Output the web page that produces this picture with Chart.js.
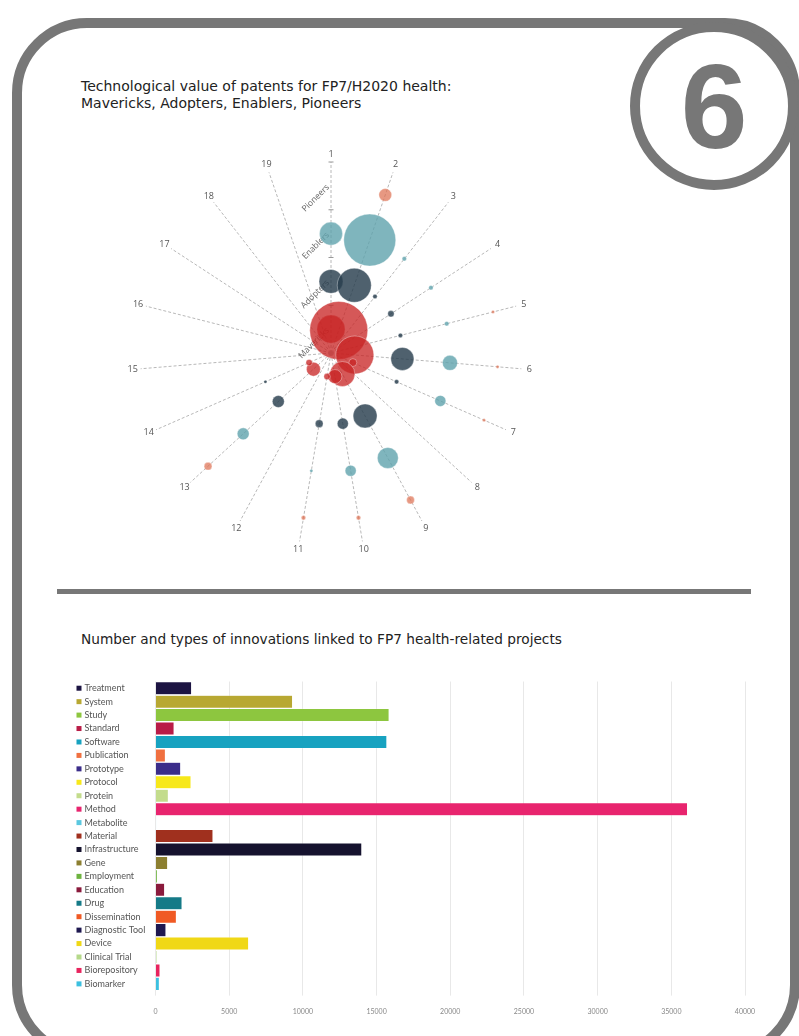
<!DOCTYPE html>
<html>
<head>
<meta charset="utf-8">
<script src="https://cdn.jsdelivr.net/npm/chart.js@4.4.1/dist/chart.umd.min.js"></script>
<style>
  body { margin: 0; width: 799px; height: 1036px; overflow: hidden; background: #fff; position: relative; }
  #frame { position: absolute; left: 12px; top: 18px; width: 768px; height: 1022px; border: 10px solid #777; border-radius: 75px; }
  #badge { position: absolute; left: 630px; top: 22px; width: 148px; height: 148px; border: 10px solid #777; border-radius: 50%; background: #fff;
           display: flex; align-items: center; justify-content: center; font: bold 120px "Liberation Sans", Arial, sans-serif; color: #777; line-height: 1; }
  #sep { position: absolute; left: 57px; top: 589px; width: 694px; height: 5px; background: #777; }
  .title { position: absolute; left: 81px; font: 14px "DejaVu Sans", sans-serif; color: #222; line-height: 17px; }
  canvas { position: absolute; }
</style>
</head>
<body>
<div id="frame"></div>
<div id="badge">6</div>
<div class="title" style="top:78px">Technological value of patents for FP7/H2020 health:<br>Mavericks, Adopters, Enablers, Pioneers</div>
<div id="sep"></div>
<div class="title" style="top:631px;font-size:13.7px">Number and types of innovations linked to FP7 health-related projects</div>
<canvas id="radial" width="422" height="422" style="left:120px;top:142px"></canvas>
<canvas id="bars" width="799" height="376" style="left:0;top:660px"></canvas>
<script>
// --- radial bubble chart: one value per spoke (1..19) for each group
const spokes = ["1", "2", "3", "4", "5", "6", "7", "8", "9", "10", "11", "12", "13", "14", "15", "16", "17", "18", "19"];
const groups = ["Mavericks", "Adopters", "Enablers", "Pioneers"];
const mavericks = [77, 328, 0, 0, 0, 141, 6, 0, 61, 19, 4, 0, 19, 4, 0, 0, 0, 0, 0];
const adopters = [56, 113, 2, 4, 2, 52, 2, 0, 56, 12, 6, 0, 14, 1, 0, 0, 0, 0, 0];
const enablers = [52, 264, 2, 2, 2, 22, 12, 0, 43, 12, 1, 0, 14, 0, 0, 0, 0, 0, 0];
const pioneers = [0, 16, 0, 0, 1, 1, 1, 0, 6, 2, 2, 0, 6, 0, 0, 0, 0, 0, 0];
const groupColors = ["rgba(200,35,35,0.76)", "rgba(40,62,78,0.82)", "rgba(95,163,173,0.8)", "rgba(222,112,82,0.72)"];

// --- bar chart
const categories = ["Treatment", "System", "Study", "Standard", "Software", "Publication", "Prototype", "Protocol", "Protein",
  "Method", "Metabolite", "Material", "Infrastructure", "Gene", "Employment", "Education", "Drug", "Dissemination",
  "Diagnostic Tool", "Device", "Clinical Trial", "Biorepository", "Biomarker"];
const innovations = [2450, 9300, 15850, 1260, 15700, 670, 1710, 2410, 870, 36100, 50, 3900, 14000, 825, 125, 620, 1800,
  1415, 710, 6320, 100, 305, 260];
const barColors = ["#1c1442", "#b8a832", "#8dc63f", "#b91c47", "#17a2c0", "#f07040", "#3b2d8a", "#f7e81a", "#c3dc8c",
  "#e8246e", "#5bc8e0", "#a0301e", "#15122e", "#8c7f30", "#6db33f", "#8a1a3c", "#157a87", "#f05a24", "#1e1850",
  "#f0d816", "#b5d98a", "#e8245e", "#3cc0e0"];
const xTicks = [0, 5000, 10000, 15000, 20000, 25000, 30000, 35000, 40000];

const bubbleRadius = (v) => (v > 0 ? 1.6 * Math.sqrt(v) : 0);

// spoke numbers, level names along spoke 1 and its small tick marks
const radialText = {
  id: "radialText",
  beforeDatasetsDraw(chart) {
    const s = chart.scales.r;
    const c = chart.ctx;
    c.save();
    c.fillStyle = "#555";
    c.font = '9px "Open Sans"';
    c.textAlign = "center";
    c.textBaseline = "middle";
    spokes.forEach((name, i) => {
      const p = s.getPointPosition(i, s.drawingArea + 8);
      c.fillText(name, p.x, p.y);
    });
    c.strokeStyle = "#999";
    c.lineWidth = 1;
    for (let i = 1; i <= groups.length; i++) {
      const y = s.yCenter - s.getDistanceFromCenterForValue(i);
      c.beginPath();
      c.moveTo(s.xCenter - 2.5, y);
      c.lineTo(s.xCenter + 2.5, y);
      c.stroke();
    }
    c.fillStyle = "#666";
    c.font = '8.5px "Open Sans"';
    c.textAlign = "right";
    groups.forEach((g, i) => {
      const y = s.yCenter - s.getDistanceFromCenterForValue(i + 0.5);
      c.save();
      c.translate(s.xCenter - 3, y);
      c.rotate(-Math.PI / 4);
      c.fillText(g, 0, 0);
      c.restore();
    });
    c.restore();
  },
};

new Chart(document.getElementById("radial"), {
  type: "radar",
  data: {
    labels: spokes,
    datasets: [mavericks, adopters, enablers, pioneers].map((vals, i) => ({
      label: groups[i],
      data: vals.map(() => i + 0.5),
      pointRadius: vals.map(bubbleRadius),
      pointBackgroundColor: groupColors[i],
      pointBorderColor: "rgba(255,255,255,0.35)",
      pointBorderWidth: 1,
      showLine: false,
      fill: false,
    })),
  },
  options: {
    responsive: false,
    animation: false,
    events: [],
    layout: { padding: 20 },
    plugins: { legend: { display: false }, tooltip: { enabled: false } },
    scales: {
      r: {
        min: 0,
        max: 4,
        ticks: { display: false, stepSize: 1 },
        grid: { display: false },
        angleLines: { color: "#b8b8b8", lineWidth: 1, borderDash: [3, 2] },
        pointLabels: { display: false },
      },
    },
  },
  plugins: [radialText],
});

const rowLabels = {
  id: "rowLabels",
  afterDraw(chart) {
    const y = chart.scales.y;
    const c = chart.ctx;
    c.save();
    c.font = '9px "Lato"';
    c.textBaseline = "middle";
    categories.forEach((name, i) => {
      const py = y.getPixelForValue(i);
      c.fillStyle = barColors[i];
      c.fillRect(76.5, py - 2.5, 5, 5);
      c.fillStyle = "#555";
      c.fillText(name, 84.5, py);
    });
    c.restore();
  },
};

new Chart(document.getElementById("bars"), {
  type: "bar",
  data: {
    labels: categories,
    datasets: [{
      data: innovations,
      backgroundColor: barColors,
      borderColor: "rgba(255,255,255,0.5)",
      borderWidth: 0.5,
      barPercentage: 1,
      categoryPercentage: 0.97,
    }],
  },
  options: {
    indexAxis: "y",
    responsive: false,
    animation: false,
    events: [],
    layout: { padding: { left: 155.5, right: 54, top: 21.5, bottom: 8 } },
    plugins: { legend: { display: false }, tooltip: { enabled: false } },
    scales: {
      x: {
        min: xTicks[0],
        max: xTicks[xTicks.length - 1],
        afterBuildTicks: (scale) => { scale.ticks = xTicks.map((v) => ({ value: v })); },
        ticks: { font: { size: 7, family: "Lato" }, color: "#888", padding: 12, callback: (v) => String(v) },
        grid: { color: "#e8e8e8", tickLength: 5 },
        border: { display: false },
      },
      y: { display: false },
    },
  },
  plugins: [rowLabels],
});
</script>
</body>
</html>
